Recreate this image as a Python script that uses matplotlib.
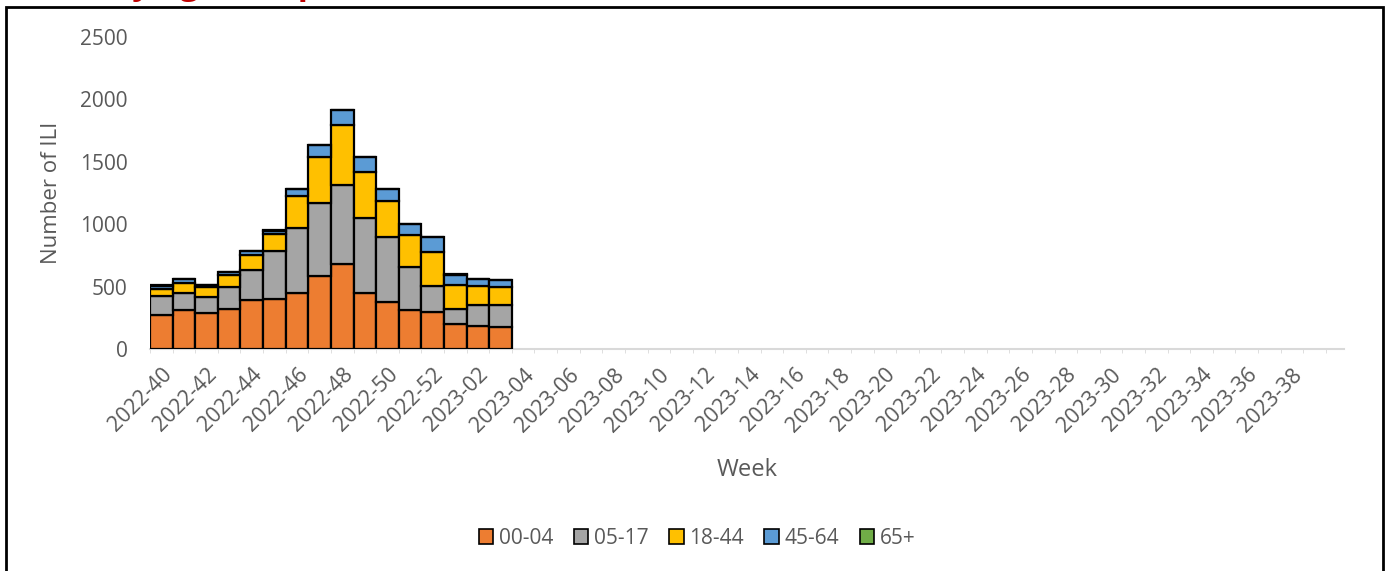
import matplotlib
matplotlib.use("Agg")
import matplotlib.pyplot as plt
from matplotlib.patches import Rectangle, Patch
import numpy as np

weeks = [f"2022-{w}" for w in range(40, 53)] + [f"2023-{w:02d}" for w in range(1, 40)]
age_groups = ["00-04", "05-17", "18-44", "45-64", "65+"]
v_00_04 = [272, 310, 286, 318, 393, 401, 451, 585, 678, 446, 377, 315, 296, 200, 184, 174]
v_05_17 = [153, 141, 131, 182, 240, 384, 521, 588, 639, 606, 523, 345, 206, 123, 166, 178]
v_18_44 = [56, 81, 77, 90, 123, 136, 257, 368, 481, 369, 286, 256, 275, 187, 152, 145]
v_45_64 = [25, 27, 19, 25, 30, 28, 54, 94, 118, 115, 94, 86, 121, 86, 57, 54]
v_65 = [5, 2, 2, 2, 2, 2, 2, 2, 2, 2, 2, 2, 2, 2, 2, 2]
series = [v_00_04, v_05_17, v_18_44, v_45_64, v_65]
colors = ["#ED7D31", "#A5A5A5", "#FFC000", "#5B9BD5", "#70AD47"]

W, H = 1390, 571
fig = plt.figure(figsize=(W / 100, H / 100), dpi=100)
plt.rcParams['font.family'] = ['Open Sans', 'DejaVu Sans']
gray = "#595959"

# outer chart border
fig.patches.append(Rectangle((6 / W, -0.05), (1383 - 6) / W, 1 - 7 / H + 0.05,
                             transform=fig.transFigure, fill=False,
                             edgecolor="black", linewidth=2, zorder=5))
# cropped red title above the border (only its lower edge is visible)
fig.text(62 / W, 1 + 6.5 / H, "ILI by age compared", color="#C00000",
         fontsize=24, fontweight="bold", ha="left", va="baseline")

ax = fig.add_axes([150 / W, 1 - 349 / H, (1344 - 150) / W, (349 - 37) / H])
x = np.arange(len(v_00_04))
bottom = np.zeros(len(x))
for vals, col, lab in zip(series, colors, age_groups):
    ax.bar(x, vals, width=1.0, bottom=bottom, color=col, edgecolor="black",
           linewidth=1.6, label=lab, zorder=3)
    bottom += np.array(vals)

ax.set_ylim(0, 2500)
ax.set_xlim(-0.5, 52.3)
ax.set_yticks(range(0, 2501, 500))
ticks = list(range(0, len(weeks), 2))
ax.set_xticks(ticks)
ax.set_xticklabels([weeks[i] for i in ticks], rotation=45, ha="right",
                   rotation_mode="anchor", color=gray, fontsize=15.5)
ax.set_xticks(np.arange(-0.5, len(weeks), 1), minor=True)
ax.tick_params(axis="x", which="major", length=0, pad=11)
ax.tick_params(axis="x", which="minor", length=3, color="#D9D9D9")
ax.tick_params(axis="y", length=0, labelsize=15, labelcolor=gray, pad=16)
for s in ["top", "right", "left"]:
    ax.spines[s].set_visible(False)
ax.spines["bottom"].set_color("#D9D9D9")
ax.spines["bottom"].set_linewidth(1.5)

ax.set_ylabel("Number of ILI", fontsize=16, color=gray, labelpad=13)
ax.set_xlabel("Week", fontsize=17, color=gray, labelpad=16)

handles = [Patch(facecolor=c, edgecolor="black", linewidth=1.2) for c in colors]
fig.legend(handles, age_groups, loc="center", bbox_to_anchor=(697 / W, 1 - 538 / H),
           ncol=5, frameon=False, fontsize=15, handlelength=0.7, handleheight=0.7,
           handletextpad=0.25, columnspacing=1.0, labelcolor=gray)

fig.savefig("out.png", dpi=100)
